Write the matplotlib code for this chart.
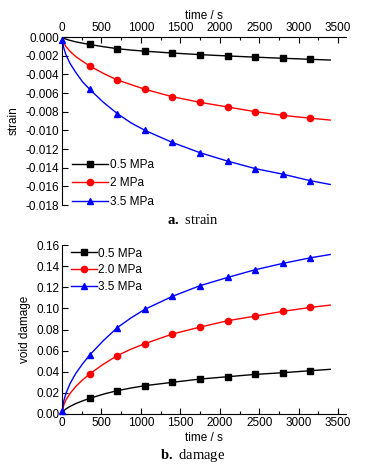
import numpy as np
import matplotlib
matplotlib.use("Agg")
import matplotlib.pyplot as plt
from matplotlib.ticker import MultipleLocator, FuncFormatter

plt.rcParams['font.family'] = ['Liberation Sans', 'DejaVu Sans']
plt.rcParams['axes.unicode_minus'] = False
plt.rcParams['mathtext.fontset'] = 'custom'
plt.rcParams['mathtext.bf'] = 'Liberation Serif:bold'
plt.rcParams['mathtext.rm'] = 'Liberation Serif'

# times of the drawn curve and of the markers (s)
t_line = [0, 20, 50, 100, 175, 260, 350, 525, 700, 875, 1050, 1400, 1750, 2100, 2450, 2800, 3150, 3400]
t_mark = [350, 700, 1050, 1400, 1750, 2100, 2450, 2800, 3150]
t_mark_35 = [0, 350, 700, 1050, 1400, 1750, 2100, 2450, 2800, 3150]

labels_a = ['0.5 MPa', '2 MPa', '3.5 MPa']
labels_b = ['0.5 MPa', '2.0 MPa', '3.5 MPa']

# strain
strain_05 = [0, -0.00013, -0.00023, -0.00036, -0.00052, -0.00066, -0.0008, -0.00104, -0.00125, -0.0014,
             -0.00152, -0.00172, -0.00189, -0.00203, -0.00216, -0.00228, -0.00239, -0.00247]
strain_2 = [0, -0.0006, -0.00102, -0.00152, -0.0021, -0.0026, -0.0031, -0.0039, -0.0046, -0.0051,
            -0.0056, -0.0064, -0.0070, -0.0075, -0.0080, -0.0084, -0.0087, -0.0089]
strain_35 = [0, -0.0011, -0.0019, -0.0028, -0.0038, -0.0048, -0.0056, -0.0070, -0.0082, -0.0092,
             -0.0100, -0.0113, -0.0124, -0.0133, -0.0141, -0.0147, -0.0154, -0.0158]
strain_05_m = [-0.0008, -0.00125, -0.00152, -0.00172, -0.00189, -0.00203, -0.00216, -0.00228, -0.00239]
strain_2_m = [-0.0031, -0.0046, -0.0056, -0.0064, -0.0070, -0.0075, -0.0080, -0.0084, -0.0087]
strain_35_m = [-0.0003, -0.0056, -0.0082, -0.0100, -0.0113, -0.0124, -0.0133, -0.0141, -0.0147, -0.0154]

# void damage
dmg_05 = [0, 0.0028, 0.0048, 0.0071, 0.0099, 0.0124, 0.0148, 0.0188, 0.0221, 0.0246,
          0.0268, 0.0300, 0.0331, 0.0353, 0.0375, 0.0391, 0.0410, 0.0423]
dmg_2 = [0, 0.0080, 0.0133, 0.0193, 0.0261, 0.0322, 0.0379, 0.0472, 0.0552, 0.0614,
         0.0666, 0.0757, 0.0823, 0.0883, 0.0927, 0.0972, 0.1009, 0.1031]
dmg_35 = [0, 0.0117, 0.0195, 0.0285, 0.0385, 0.0474, 0.0558, 0.0695, 0.0817, 0.0910,
          0.0991, 0.1114, 0.1215, 0.1293, 0.1366, 0.1426, 0.1479, 0.1510]
dmg_05_m = [0.0148, 0.0221, 0.0268, 0.0300, 0.0331, 0.0353, 0.0375, 0.0391, 0.0410]
dmg_2_m = [0.0379, 0.0552, 0.0666, 0.0757, 0.0823, 0.0883, 0.0927, 0.0972, 0.1009]
dmg_35_m = [0.003, 0.0558, 0.0817, 0.0991, 0.1114, 0.1215, 0.1293, 0.1366, 0.1426, 0.1479]

colors = ['black', '#ff0000', '#0000ff']
markers = ['s', 'o', '^']

W, H = 386, 467
fig = plt.figure(figsize=(W / 100, H / 100), dpi=100)
ax1 = fig.add_axes([62 / W, 1 - 205 / H, 284 / W, 168 / H])
ax2 = fig.add_axes([62 / W, 1 - 414 / H, 284 / W, 169 / H])


def draw(ax, lines, marks, labels):
    for i, (y, ym, lab, c, m) in enumerate(zip(lines, marks, labels, colors, markers)):
        tm = t_mark_35 if i == 2 else t_mark
        ax.plot(t_line, y, color=c, lw=1.0)
        ax.plot(tm, ym, color=c, marker=m, ms=4.5, ls='none', clip_on=False, zorder=3)
        ax.plot([], [], color=c, lw=1.0, marker=m, ms=4.5, label=lab)
    ax.set_xlim(0, 3600)
    ax.xaxis.set_major_locator(MultipleLocator(500))
    ax.xaxis.set_minor_locator(MultipleLocator(250))
    ax.tick_params(which='both', direction='in', labelsize=8.5, width=0.8)
    ax.tick_params(which='major', length=4, pad=2)
    ax.tick_params(which='minor', length=2)
    ax.spines['right'].set_visible(False)
    for s in ax.spines.values():
        s.set_linewidth(0.8)


draw(ax1, [strain_05, strain_2, strain_35], [strain_05_m, strain_2_m, strain_35_m], labels_a)
ax1.set_ylim(-0.018, 0)
ax1.yaxis.set_major_locator(MultipleLocator(0.002))
ax1.yaxis.set_major_formatter(FuncFormatter(lambda v, p: '%.3f' % (0.0 if abs(v) < 1e-9 else v)))
ax1.xaxis.tick_top()
ax1.xaxis.set_label_position('top')
ax1.spines['bottom'].set_visible(False)
ax1.set_xlabel('time / s', fontsize=8.5, labelpad=2)
ax1.set_ylabel('strain', fontsize=8.5, labelpad=4)
ax1.legend(loc='lower left', bbox_to_anchor=(0.02, -0.045), frameon=False, fontsize=8.5,
           handlelength=3.0, handletextpad=0.15, labelspacing=0.55, borderaxespad=0.0)

draw(ax2, [dmg_05, dmg_2, dmg_35], [dmg_05_m, dmg_2_m, dmg_35_m], labels_b)
ax2.set_ylim(0, 0.16)
ax2.yaxis.set_major_locator(MultipleLocator(0.02))
ax2.yaxis.set_major_formatter(FuncFormatter(lambda v, p: '%.2f' % v))
ax2.spines['top'].set_visible(False)
ax2.set_xlabel('time / s', fontsize=8.5, labelpad=2)
ax2.set_ylabel('void damage', fontsize=8.5, labelpad=4)
ax2.legend(loc='upper left', bbox_to_anchor=(0.01, 1.02), frameon=False, fontsize=8.5,
           handlelength=2.2, handletextpad=0.15, labelspacing=0.4, borderaxespad=0.1)

fig.text(0.5, 1 - 220 / H, r'$\mathbf{a.}$ strain', ha='center', va='center', fontsize=10.5,
         family=['Liberation Serif', 'DejaVu Serif'])
fig.text(0.5, 1 - 455 / H, r'$\mathbf{b.}$ damage', ha='center', va='center', fontsize=10.5,
         family=['Liberation Serif', 'DejaVu Serif'])

fig.savefig('out.png', dpi=100)
